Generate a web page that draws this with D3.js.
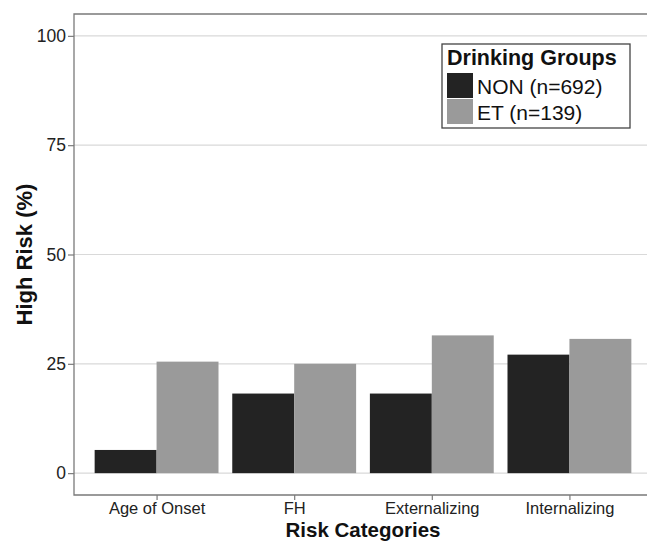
<!DOCTYPE html>
<html>
<head>
<meta charset="utf-8">
<script src="https://cdn.jsdelivr.net/npm/d3@7"></script>
<style>
  body { margin: 0; background: #fff; }
  svg { display: block; font-family: "Liberation Sans", Arial, sans-serif; }
</style>
</head>
<body>
<div id="chart"></div>
<script>
// Data
const categories = ["Age of Onset", "FH", "Externalizing", "Internalizing"];
const groups = ["NON (n=692)", "ET (n=139)"];
const nonValues = [5.3, 18.2, 18.2, 27.1];
const etValues = [25.5, 25.0, 31.5, 30.7];
const yTicks = [0, 25, 50, 75, 100];
const groupColors = ["#232323", "#9a9a9a"];

const width = 647, height = 542;
// panel runs a bit past the right edge, as in the cropped original
const panel = { left: 74, top: 14, right: 652, bottom: 495 };

const svg = d3.select("#chart").append("svg")
    .attr("width", width)
    .attr("height", height);

// y scale with ggplot-style 5% expansion
const y = d3.scaleLinear()
    .domain([-5, 105])
    .range([panel.bottom, panel.top]);

// discrete x with 0.6 unit padding each side
const step = (panel.right - panel.left) / (categories.length + 0.2);
const x = d3.scaleBand()
    .domain(categories)
    .range([panel.left + 0.1 * step, panel.right - 0.1 * step])
    .paddingInner(0.1)
    .paddingOuter(0.05);
const inner = d3.scaleBand().domain(groups).range([0, x.bandwidth()]);

// grid lines
svg.append("g")
    .selectAll("line")
    .data(yTicks)
    .enter().append("line")
    .attr("x1", panel.left)
    .attr("x2", panel.right)
    .attr("y1", d => y(d))
    .attr("y2", d => y(d))
    .attr("stroke", "#d9d9d9")
    .attr("stroke-width", 1.2);

// bars
const rows = categories.map((c, i) => ({ cat: c, vals: [nonValues[i], etValues[i]] }));
const barGroup = svg.append("g")
    .selectAll("g")
    .data(rows)
    .enter().append("g")
    .attr("transform", d => `translate(${x(d.cat)},0)`);

barGroup.selectAll("rect")
    .data(d => d.vals.map((v, j) => ({ g: groups[j], v, j })))
    .enter().append("rect")
    .attr("x", d => inner(d.g))
    .attr("width", inner.bandwidth())
    .attr("y", d => y(d.v))
    .attr("height", d => y(0) - y(d.v))
    .attr("fill", d => groupColors[d.j]);

// panel border (top, left, bottom)
svg.append("path")
    .attr("d", `M${panel.right},${panel.top}H${panel.left}V${panel.bottom}H${panel.right}`)
    .attr("fill", "none")
    .attr("stroke", "#7a7a7a")
    .attr("stroke-width", 1.3);

// y axis ticks + labels
const yAxis = d3.axisLeft(y).tickValues(yTicks).tickSize(6).tickPadding(2);
const ya = svg.append("g")
    .attr("transform", `translate(${panel.left},0)`)
    .call(yAxis);
ya.select(".domain").remove();
ya.selectAll(".tick line").attr("stroke", "#7a7a7a").attr("stroke-width", 1.2);
ya.selectAll(".tick text")
    .attr("fill", "#222")
    .style("font-size", "17.5px")
    .attr("font-family", null);

// x axis ticks + labels
const xTickScale = d3.scalePoint().domain(categories)
    .range([x(categories[0]) + x.bandwidth() / 2, x(categories[3]) + x.bandwidth() / 2]);
const xAxis = d3.axisBottom(xTickScale).tickSize(5).tickPadding(2);
const xa = svg.append("g")
    .attr("transform", `translate(0,${panel.bottom})`)
    .call(xAxis);
xa.select(".domain").remove();
xa.selectAll(".tick line").attr("stroke", "#7a7a7a").attr("stroke-width", 1.2);
xa.selectAll(".tick text")
    .attr("fill", "#222")
    .style("font-size", "16.5px")
    .attr("font-family", null);

// axis titles
svg.append("text")
    .attr("x", (panel.left + panel.right) / 2)
    .attr("y", 537)
    .attr("text-anchor", "middle")
    .style("font-size", "20.5px")
    .style("font-weight", "bold")
    .attr("fill", "#111")
    .text("Risk Categories");

svg.append("text")
    .attr("transform", `translate(32,${(panel.top + panel.bottom) / 2}) rotate(-90)`)
    .attr("text-anchor", "middle")
    .style("font-size", "22px")
    .style("font-weight", "bold")
    .attr("fill", "#111")
    .text("High Risk (%)");

// legend
const legend = svg.append("g").attr("transform", "translate(442,44)");
legend.append("rect")
    .attr("width", 188)
    .attr("height", 84)
    .attr("fill", "#fff")
    .attr("stroke", "#444")
    .attr("stroke-width", 1.3);
legend.append("text")
    .attr("x", 5)
    .attr("y", 21)
    .style("font-size", "21.5px")
    .style("font-weight", "bold")
    .attr("fill", "#111")
    .text("Drinking Groups");
const items = legend.selectAll(".item")
    .data(groups)
    .enter().append("g")
    .attr("class", "item")
    .attr("transform", (d, i) => `translate(5,${29 + i * 26})`);
items.append("rect")
    .attr("width", 26)
    .attr("height", 25)
    .attr("fill", (d, i) => groupColors[i]);
items.append("text")
    .attr("x", 30)
    .attr("y", 21)
    .style("font-size", "21px")
    .attr("fill", "#111")
    .text(d => d);
</script>
</body>
</html>
